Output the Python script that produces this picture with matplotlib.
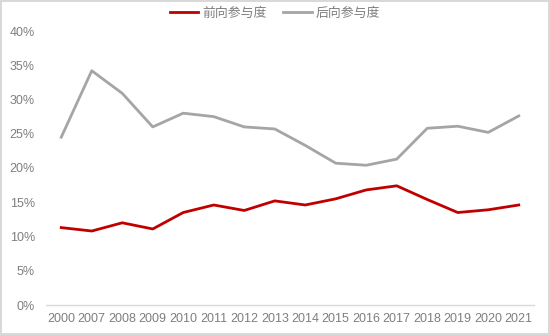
import matplotlib
matplotlib.use("Agg")
import matplotlib.pyplot as plt
from matplotlib.ticker import FuncFormatter

years = ["2000", "2007", "2008", "2009", "2010", "2011", "2012", "2013",
         "2014", "2015", "2016", "2017", "2018", "2019", "2020", "2021"]
forward = [11.3, 10.8, 12.0, 11.1, 13.5, 14.6, 13.8, 15.2,
           14.6, 15.5, 16.8, 17.4, 15.4, 13.5, 13.9, 14.6]
backward = [24.5, 34.2, 30.9, 26.0, 28.0, 27.5, 26.0, 25.7,
            23.3, 20.7, 20.4, 21.3, 25.8, 26.1, 25.2, 27.6]
series_names = ["前向参与度", "后向参与度"]

plt.rcParams['font.family'] = ['Noto Sans CJK SC', 'DejaVu Sans']

fig = plt.figure(figsize=(5.5, 3.35), dpi=100)
fig.patch.set_edgecolor("#d9d9d9")
fig.patch.set_linewidth(1.5)
ax = fig.add_axes([46/550, 1-305/335, (534-46)/550, (305-31)/335])

x = list(range(len(years)))
ax.plot(x, forward, color="#c00000", lw=2.0, label=series_names[0])
ax.plot(x, backward, color="#a5a5a5", lw=2.0, label=series_names[1])

ax.set_xlim(-0.5, len(years) - 0.5)
ax.set_ylim(0, 40)
ax.set_yticks(range(0, 41, 5))
ax.yaxis.set_major_formatter(FuncFormatter(lambda v, p: f"{int(v)}%"))
ax.set_xticks(x)
ax.set_xticklabels(years)

for s in ["top", "right", "left"]:
    ax.spines[s].set_visible(False)
ax.spines["bottom"].set_color("#d9d9d9")
ax.spines["bottom"].set_linewidth(1.0)
ax.tick_params(axis="both", length=0, colors="#7f7f7f", labelsize=9)
ax.tick_params(axis="x", pad=6)
ax.tick_params(axis="y", pad=8)
for lab in ax.get_xticklabels() + ax.get_yticklabels():
    lab.set_family(["Liberation Sans", "DejaVu Sans"])

leg = fig.legend(loc="upper center", bbox_to_anchor=(0.5, 1.015), ncol=2,
                 frameon=False, fontsize=9.3, handlelength=2.2,
                 columnspacing=1.3, handletextpad=0.3)
for t in leg.get_texts():
    t.set_color("#7f7f7f")

fig.savefig("out.png", dpi=100)
